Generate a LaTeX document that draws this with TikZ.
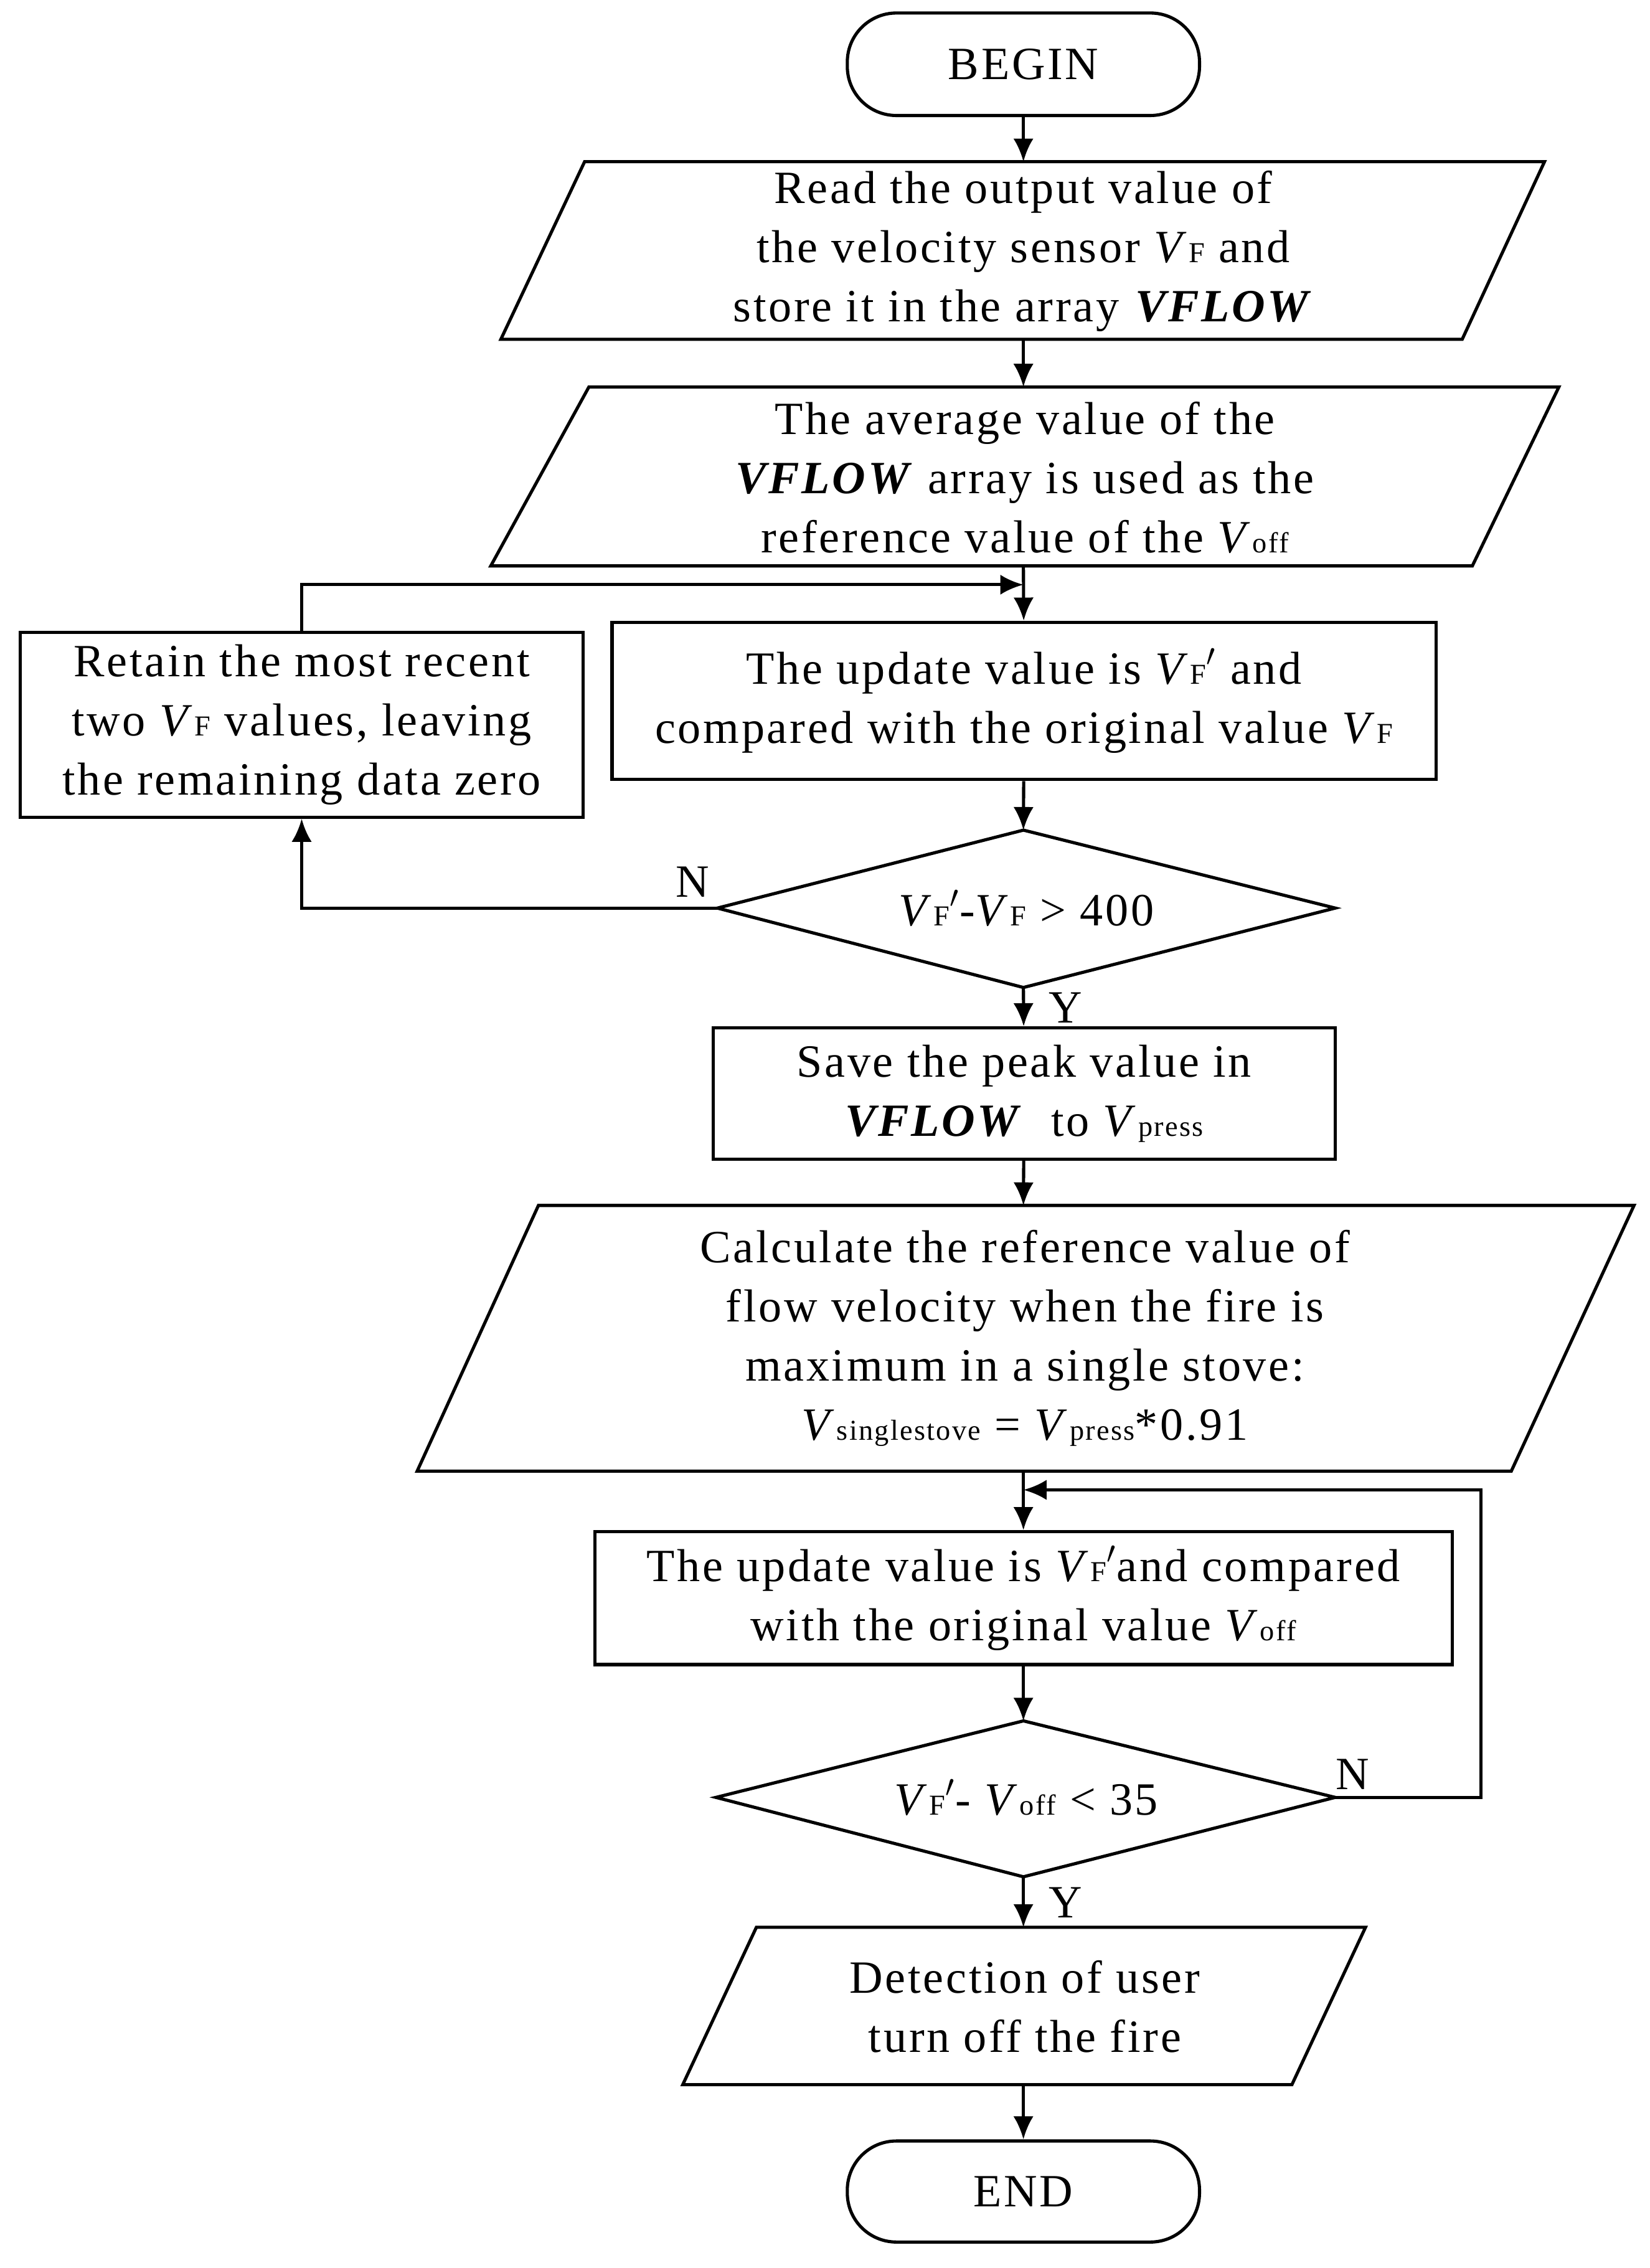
\documentclass[tikz,border=0pt]{standalone}
\usepackage{fontspec}
\setmainfont{Liberation Serif}[LetterSpace=5]
\usetikzlibrary{arrows.meta}
\newcommand\VV{\textit{V}}
\newcommand\mysb[1]{{\fontsize{10}{10}\selectfont #1}}
\newcommand\VF{\textbf{\textit{VFLOW}}}
\begin{document}
\begin{tikzpicture}[x=0.5pt,y=0.5pt,line width=1.1pt,
  every node/.style={font=\fontsize{16}{20.5}\selectfont,align=center,inner sep=0pt},
  box/.style={draw,rectangle},
  arr/.style={-{Latex[length=8pt,width=7pt]}},
  lab/.style={font=\fontsize{16}{17}\selectfont}]
\useasboundingbox (0,0) rectangle (1143,-1571);
% BEGIN
\node[box,rounded corners=17pt,minimum width=122pt,minimum height=35.5pt] (begin) at (709,-44.5) {BEGIN};
% para1
\draw (405,-112) -- (1070,-112) -- (1013,-235) -- (347,-235) -- cycle;
\coordinate (p1t) at (709,-112); \coordinate (p1b) at (709,-235);
\node (p1) at (709,-174) {Read the output value of\\the velocity sensor \VV\mysb{F} and\\store it in the array \VF};
% para2
\draw (408,-268) -- (1080,-268) -- (1020,-392) -- (340,-392) -- cycle;
\coordinate (p2t) at (709,-268); \coordinate (p2b) at (709,-392);
\node (p2) at (710,-331) {The average value of the\\\VF{} array is used as the\\reference value of the \VV\mysb{off}};
% update1
\node[box,minimum width=285.5pt,minimum height=54.5pt] (u1) at (709.5,-485.5) {The update value is \VV\mysb{F}$'$ and\\compared with the original value \VV\mysb{F}};
\coordinate (m1) at (709,-405);
% left box
\node[box,minimum width=195pt,minimum height=64pt] (lb) at (209,-502) {Retain the most recent\\two \VV\mysb{F} values, leaving\\the remaining data zero};
% diamond1
\draw (497,-629) -- (709,-575) -- (925,-629) -- (709,-684) -- cycle;
\coordinate (d1t) at (709,-575); \coordinate (d1b) at (709,-684); \coordinate (d1l) at (497,-629);
\node (d1) at (711,-629) {\VV\mysb{F}$'$-\VV\mysb{F} > 400};
\node[lab] at (480,-611) {N};
\node[lab] at (738,-698) {Y};
% save
\node[box,minimum width=215.5pt,minimum height=45.5pt] (sv) at (709.5,-757.5) {Save the peak value in\\\VF{}\ \ to \VV\mysb{press}};
% para3
\draw (373,-835) -- (1132,-835) -- (1047,-1019) -- (289,-1019) -- cycle;
\coordinate (p3t) at (709,-835); \coordinate (p3b) at (709,-1019);
\node (p3) at (710,-927) {Calculate the reference value of\\flow velocity when the fire is\\maximum in a single stove:\\\VV\mysb{singlestove} = \VV\mysb{press}*0.91};
\coordinate (m2) at (709,-1032);
% update2
\node[box,minimum width=297pt,minimum height=46pt] (u2) at (709,-1107) {The update value is \VV\mysb{F}$'$and compared\\with the original value \VV\mysb{off}};
% diamond2
\draw (496,-1245) -- (709,-1192) -- (925,-1245) -- (709,-1300) -- cycle;
\coordinate (d2t) at (709,-1192); \coordinate (d2b) at (709,-1300); \coordinate (d2r) at (925,-1245);
\node (d2) at (711,-1245) {\VV\mysb{F}$'$- \VV\mysb{off} < 35};
\node[lab] at (937,-1229) {N};
\node[lab] at (738,-1318) {Y};
% para4
\draw (524,-1335) -- (946,-1335) -- (895,-1444) -- (473,-1444) -- cycle;
\coordinate (p4t) at (709,-1335); \coordinate (p4b) at (709,-1444);
\node (p4) at (710,-1390) {Detection of user\\turn off the fire};
% END
\node[box,rounded corners=17pt,minimum width=122pt,minimum height=35pt] (end) at (709,-1518) {END};
% connectors
\draw[arr] (begin) -- (p1t);
\draw[arr] (p1b) -- (p2t);
\draw[arr] (p2b) -- (u1);
\draw[arr] (lb.north) |- (m1);
\draw[arr] (u1) -- (d1t);
\draw[arr] (d1l) -| (lb.south);
\draw[arr] (d1b) -- (sv);
\draw[arr] (sv) -- (p3t);
\draw[arr] (p3b) -- (u2);
\draw[arr] (d2r) -- (1026,-1245) |- (m2);
\draw[arr] (u2) -- (d2t);
\draw[arr] (d2b) -- (p4t);
\draw[arr] (p4b) -- (end);
\end{tikzpicture}
\end{document}
